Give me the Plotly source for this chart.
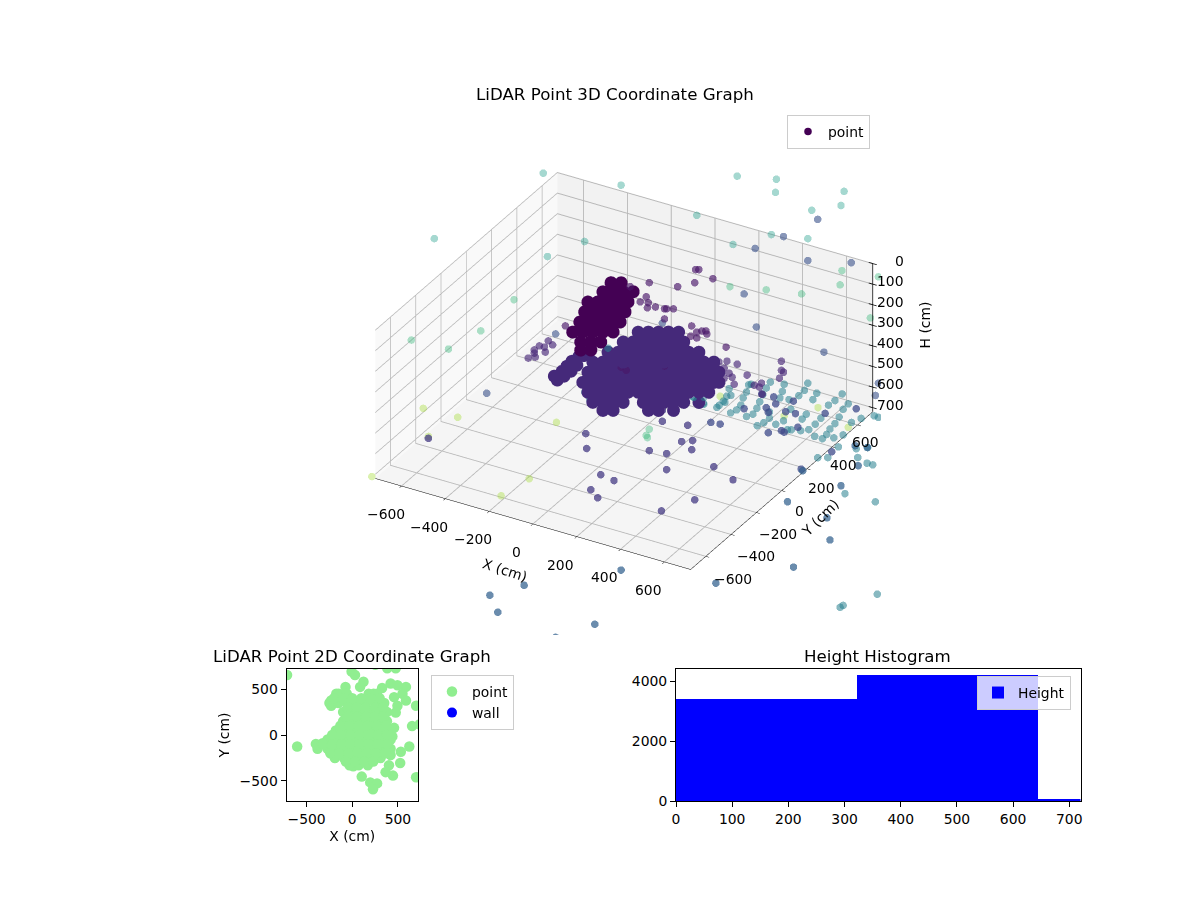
#!/usr/bin/env python3

import plotly.graph_objects as go

FONT = "DejaVu Sans"

# 3D points, one set of lists per colour group
x_top = [-270, -10, 378, 509, 506, 735, 725, 627, 243, 492, 614, 364, -132, -634, -256]
y_top = [-156, -6, 218, 294, 292, 424, 418, 362, 140, 284, 354, 210, -76, -366, -148]
h_top = [-564, -507, -550, -535, -473, -478, -411, -388, -364, -273, -254, -226, -240, -254, -169]

x_green = [728, 850, 722, 354, 475, 593, 823, -368, -479, -711, -587, 84, 74, 78]
y_green = [420, 490, 416, 204, 274, 342, 475, -212, -276, -410, -338, 49, 43, 45]
h_green = [-102, -73, -35, -26, -11, 8, 122, 36, 184, 227, 270, 650, 679, 689]

x_yellow = [-671, -556, -226, -654, -843, -317, -411, 321, 648, 535, 749]
y_yellow = [-387, -321, -130, -377, -486, -183, -237, 185, 374, 308, 432]
h_yellow = [551, 593, 617, 684, 874, 884, 965, 493, 547, 586, 640]

x_blue = [647, 533, 438, 614, 759, 401, 442, 668, 128, -229, -459, 850, 840]
y_blue = [373, 307, 253, 354, 438, 231, 255, 385, 74, -132, -265, 490, 484]
h_blue = [-345, -264, -207, -150, -140, 8, 165, 284, 146, 198, 479, 431, 489]

x_purple = [239, 250, 297, 236, 179, 84, 20, 74, 81, 54, 78, 105, 135, 142, 165, 135, 226, 243,
            260, 273, 277, 223, 243, 341, -196, 67, 7, 135, -10, 7]
y_purple = [138, 144, 171, 136, 103, 49, 12, 43, 47, 31, 45, 60, 78, 82, 95, 78, 130, 140,
            150, 158, 159, 128, 140, 196, -113, 39, 4, 78, -6, 4]
h_purple = [-107, -107, -64, -45, -26, -45, -26, 22, 50, 46, 74, 70, 79, 79, 79, 127, 160, 189,
            184, 184, 198, 208, 217, 260, 160, 279, 322, 350, 355, 370]

x_tail = [-253, -283, -300, -266, -263, -239, -297, -320, -300, 317, 344, 378, 334, 351, 361, 334,
          368, 411, 459, 435, 452, 462, 526, 526, 533, 519]
y_tail = [-146, -163, -173, -154, -152, -138, -171, -185, -173, 183, 198, 218, 193, 202, 208, 193,
          212, 237, 265, 251, 261, 266, 303, 303, 307, 300]
h_tail = [231, 255, 274, 260, 284, 250, 308, 312, 289, 331, 327, 341, 360, 384, 403, 408,
          436, 393, 431, 441, 450, 484, 327, 370, 379, 408]

x_teal = [230, 265, 318, 332, 343, 351, 356, 376, 390, 398, 409, 416, 409, 431, 444, 453, 464, 475,
          489, 535, 445, 467, 486, 486, 507, 521, 529, 551, 584, 603, 614, 644, 631, 595, 609, 533,
          557, 546, 559, 590, 617, 639, 658, 683, 705, 729, 749, 719, 705, 688, 677, 663, 637, 732,
          760, 732, 701, 716, 647, 681, 776, 781, 812, 831, 792, 836, 814,
          266, 310, 337, 357, 266, 233, 425, -132, -115, -54, 738, 840, 846, 722, 732, 850]
y_teal = [133, 153, 183, 191, 198, 202, 205, 217, 225, 229, 236, 240, 236, 248, 256, 261, 267, 274,
          282, 308, 256, 269, 280, 280, 292, 300, 305, 318, 337, 347, 354, 371, 364, 343, 351, 307,
          321, 315, 322, 340, 356, 368, 379, 394, 406, 420, 432, 414, 406, 397, 390, 382, 367, 422,
          438, 422, 404, 413, 373, 392, 447, 450, 468, 479, 457, 482, 469,
          154, 179, 195, 206, 154, 134, 245, -76, -66, -31, 426, 484, 488, 416, 422, 490]
h_teal = [496, 526, 536, 516, 493, 457, 572, 558, 535, 501, 473, 439, 589, 578, 550, 519, 485, 454,
          426, 436, 632, 618, 597, 567, 626, 501, 470, 509, 490, 465, 431, 478, 509, 601, 578, 609,
          555, 652, 652, 656, 651, 625, 597, 535, 513, 482, 529, 591, 622, 648, 674, 694, 683, 555,
          617, 676, 690, 733, 784, 783, 741, 783, 810, 818, 598, 586, 736,
          531, 546, 522, 489, 498, 498, 436, 474, 512, 265, 955, 993, 1431, 1493, 1484, 593]

x_dark = [460, 500, 507, 566, 401, 475, 482, 540, 573, 526, 535, 581, 482, 290, 321, 672, 776, 592, 694]
y_dark = [265, 288, 292, 326, 231, 274, 278, 311, 330, 303, 308, 335, 278, 167, 185, 387, 447, 341, 400]
h_dark = [482, 496, 529, 516, 552, 547, 570, 566, 575, 656, 663, 640, 666, 617, 625, 574, 552, 838, 756]

x_steel = [772, 813, 782, 725, 597, 546, 678, 688, 566, 307, -10, -334, -448, -422, -98, -229]
y_steel = [445, 469, 451, 418, 344, 315, 391, 397, 327, 177, -6, -193, -259, -243, -56, -132]
h_steel = [727, 736, 822, 917, 846, 993, 1069, 1174, 1303, 1379, 1317, 1389, 1436, 1517, 1574, 1636]

x_floor = [-128, -125, 128, 128, 212, 192, 229, 84, 142, 226, 142, 300, 364, -78, -34,
           -111, -88, 236, 125, -654]
y_floor = [-74, -72, 74, 74, 123, 111, 132, 49, 82, 130, 82, 173, 210, -45, -19,
           -64, -51, 136, 72, -377]
h_floor = [670, 741, 612, 560, 631, 708, 703, 751, 765, 746, 841, 827, 889, 865, 893,
           936, 974, 984, 1036, 693]

x_hand = [-44, -10, -71, -37, -3, 30, -121, -88, -54, -20, 13, -132, -98, -64, -30, 3,
          -148, -115, -81, -47, -13, -172, -138, -105, -71, -37, -145, -111, -78, -145, -111]
y_hand = [-25, -6, -41, -21, -2, 18, -70, -51, -31, -12, 8, -76, -56, -37, -18, 2,
          -86, -66, -47, -27, -8, -99, -80, -60, -41, -21, -84, -64, -45, -84, -64]
h_hand = [-45, -45, -2, -2, -2, -2, 46, 46, 46, 46, 46, 93, 93, 93, 93, 93,
          141, 141, 141, 141, 141, 189, 189, 189, 189, 189, 236, 236, 236, 274, 274]

x_blob = [47, 81, 115, 148, 182,
          -3, 30, 64, 98, 132, 165, 199,
          -54, -20, 13, 47, 81, 115, 148, 182, 216, 250,
          -105, -71, -37, -3, 30, 64, 98, 132, 165, 199, 233, 266, 300,
          -121, -88, -54, -20, 13, 47, 81, 115, 148, 182, 216, 250, 283, 317,
          -138, -105, -71, -37, -3, 30, 64, 98, 132, 165, 199, 233, 266, 300, 317,
          -121, -88, -54, -20, 13, 47, 81, 115, 148, 182, 216, 250, 283,
          -105, -71, -37, -3, 64, 98, 132, 165, 199, 250,
          -71, -37, 81, 115, 165]
y_blob = [27, 47, 66, 86, 105,
          -2, 18, 37, 56, 76, 95, 115,
          -31, -12, 8, 27, 47, 66, 86, 105, 124, 144,
          -60, -41, -21, -2, 18, 37, 56, 76, 95, 115, 134, 154, 173,
          -70, -51, -31, -12, 8, 27, 47, 66, 86, 105, 124, 144, 163, 183,
          -80, -60, -41, -21, -2, 18, 37, 56, 76, 95, 115, 134, 154, 173, 183,
          -70, -51, -31, -12, 8, 27, 47, 66, 86, 105, 124, 144, 163,
          -60, -41, -21, -2, 37, 56, 76, 95, 115, 144,
          -41, -21, 47, 66, 95]
h_blob = [189] * 5 + [236] * 7 + [284] * 10 + [331] * 13 + [379] * 14 + [427] * 15 + [474] * 13 + [522] * 10 + [560] * 5

x_arm = [-239, -212, -196, -179, -155, -138, -121, -229, -206, -182, -162]
y_arm = [-138, -123, -113, -103, -89, -80, -70, -132, -119, -105, -93]
h_arm = [384, 360, 336, 312, 289, 284, 265, 403, 384, 360, 331]

x_2d = [-714, -603, -398, -324, -7, 30, 123, 86, -74, 253, 383, 476, 420, 327, 234, 588, 495, 550,
        458, 588, 495, 476, 699, 655, 737, 458, 439, -175, -231, -231, 625, 532, 525, 402, 365, 446,
        420, 699, 104, 197, 272, 227, -193, 11,
        -150, -60, 180, 270,
        -250, -150, -50, 50, 150, 250, 350,
        -100, 0, 100, 200, 300, 380,
        -100, 0, 100, 200, 300, 380,
        -180, -80, 20, 120, 220, 320, 420,
        -270, -170, -70, 30, 130, 230, 330, 420,
        -380, -270, -170, -70, 30, 130, 230, 330, 420,
        -190, -90, 10, 110, 210, 310,
        -30, 70, 170,
        -200, -100, 0, 100, 200, 300,
        -50, 50, 150, 250, 340,
        -50, 50, 150, 250, 340,
        -130, -30, 70, 170, 270, 370,
        -220, -120, -20, 80, 180, 280, 380,
        -320, -220, -120, -20, 80, 180, 280, 380,
        -240, -140, -40, 60, 160, 260, 360,
        -70, 30, 130, 230]
y_2d = [655, -126, -97, -89, 692, 655, 580, 525, 525, 766, 729, 729, 562, 513, 450, 525, 543, 450,
        413, 376, 320, 245, 320, 97, 115, 78, -15, 450, 376, 320, -126, -182, -305, -331, -405, -443,
        -219, -461, -454, -517, -528, -591, -238, -342,
        450, 450, 450, 450,
        350, 350, 350, 350, 350, 350, 350,
        250, 250, 250, 250, 250, 250,
        150, 150, 150, 150, 150, 150,
        50, 50, 50, 50, 50, 50, 50,
        -50, -50, -50, -50, -50, -50, -50, -50,
        -150, -150, -150, -150, -150, -150, -150, -150, -150,
        -250, -250, -250, -250, -250, -250,
        -330, -330, -330,
        400, 400, 400, 400, 400, 400,
        300, 300, 300, 300, 300,
        200, 200, 200, 200, 200,
        100, 100, 100, 100, 100, 100,
        0, 0, 0, 0, 0, 0, 0,
        -100, -100, -100, -100, -100, -100, -100, -100,
        -200, -200, -200, -200, -200, -200, -200,
        -290, -290, -290, -290]
x_wall = [None]
y_wall = [None]

# histogram bins
bin_left = [0, 323, 645]
bin_width = [323, 322, 322]
bin_count = [3409, 4212, 56]

# axis ticks of the 3D panel
xy_ticks = [-600, -400, -200, 0, 200, 400, 600]
h_ticks = [0, 100, 200, 300, 400, 500, 600, 700]
LIM = 720
ZOOM = 1.364  # orthographic scale only follows the aspect ratio
SPREAD = 1.025  # reference has perspective, points sit a bit wider than the box

fig = go.Figure()


def points(x, y, h, color, opacity, size=4.4, scene="scene2", **kw):
    fig.add_trace(
        go.Scatter3d(
            x=x, y=y, z=h,
            mode="markers",
            scene=scene,
            marker=dict(color=color, size=size, opacity=opacity, line=dict(width=0)),
            showlegend=kw.pop("showlegend", False),
            hoverinfo="skip",
            **kw,
        )
    )


points(x_arm, y_arm, h_arm, "#45297a", 1, size=7.5, scene="scene")
points(x_top, y_top, h_top, "#1f9e89", 0.4)
points(x_green, y_green, h_green, "#35b779", 0.4)
points(x_yellow, y_yellow, h_yellow, "#a5db36", 0.4)
points(x_teal, y_teal, h_teal, "#277f8e", 0.55)
points(x_blue, y_blue, h_blue, "#3b528b", 0.6)
points(x_dark, y_dark, h_dark, "#3e4989", 0.75)
points(x_steel, y_steel, h_steel, "#31608d", 0.72)
points(x_floor, y_floor, h_floor, "#443983", 0.75)
points(x_tail, y_tail, h_tail, "#482878", 0.65)
points(x_blob, y_blob, h_blob, "#45297a", 1, size=7.5)
points(x_hand, y_hand, h_hand, "#440154", 1, size=7.5, name="point", showlegend=True, legend="legend")
points(x_purple, y_purple, h_purple, "#481668", 0.65)

# the H axis sits on the right hand edge, plotly would put it on the left
spine_x, spine_y, spine_h = [LIM, LIM], [LIM, LIM], [LIM, 0]
for h in h_ticks:
    spine_x += [None, LIM - 18, LIM + 18]
    spine_y += [None, LIM, LIM]
    spine_h += [None, h, h]
fig.add_trace(
    go.Scatter3d(
        x=spine_x, y=spine_y, z=spine_h, mode="lines", scene="scene3",
        line=dict(color="black", width=1.5), showlegend=False, hoverinfo="skip",
    )
)

fig.add_trace(
    go.Scatter(
        x=x_2d, y=y_2d, mode="markers", name="point", legend="legend2",
        marker=dict(color="lightgreen", size=10.5), xaxis="x", yaxis="y",
    )
)
fig.add_trace(
    go.Scatter(
        x=x_wall, y=y_wall, mode="markers", name="wall", legend="legend2",
        marker=dict(color="blue", size=10), xaxis="x", yaxis="y",
    )
)
fig.add_trace(
    go.Bar(
        x=bin_left, y=bin_count, width=bin_width, offset=0, name="Height", legend="legend3",
        marker=dict(color="blue", line=dict(width=0)), xaxis="x2", yaxis="y2",
    )
)

axis2d = dict(
    showgrid=False, zeroline=False, showline=True, mirror=True, linecolor="black", linewidth=1,
    ticks="outside", ticklen=5, tickcolor="black", tickfont=dict(size=13.9),
)
axis3d = dict(
    showbackground=True, gridcolor="#b8b8b8", gridwidth=2, showline=True, linecolor="black",
    linewidth=1, ticks="outside", tickcolor="black", ticklen=4, zeroline=False, showspikes=False,
    showticklabels=False, title_text="",
)
hidden = dict(visible=False, showspikes=False)
eye = dict(x=2.165, y=-3.75, z=2.5)
camera = dict(eye=eye, up=dict(x=0, y=0, z=1), center=dict(x=0, y=0, z=0), projection=dict(type="orthographic"))
domain_box = dict(x=[367 / 1200, 881 / 1200], y=[1 - 638 / 900, 1 - 104 / 900])
domain_points = dict(x=[367 / 1200, 881 / 1200], y=[1 - 635 / 900, 1 - 101 / 900])


def label(text, x, y, h, xshift, yshift, angle=0, xanchor="center"):
    return dict(
        text=text, x=x, y=y, z=h, xshift=xshift, yshift=yshift, textangle=angle, showarrow=False,
        xanchor=xanchor, yanchor="middle", font=dict(size=13.9, color="black", family=FONT),
    )


def tick_text(v):
    return str(v).replace("-", "\u2212")


scene_labels = (
    [label(tick_text(v), v, -LIM, LIM, -16, -28) for v in xy_ticks]
    + [label(tick_text(v), LIM, v, LIM, 18 - 0.016 * v, -20 + 0.005 * v) for v in xy_ticks]
    + [label(tick_text(v), LIM, LIM, v, 33, 3, xanchor="right") for v in h_ticks]
    + [
        label("X (cm)", 0, -LIM, LIM, -28, -46, angle=18),
        label("Y (cm)", LIM, 0, LIM, 38, -27, angle=-45),
        label("H (cm)", LIM, LIM, 360, 52, 13, angle=-90),
    ]
)


def legend_at(px, py):
    return dict(
        x=px / 1200, y=1 - py / 900, xanchor="left", yanchor="top",
        bordercolor="#cccccc", borderwidth=1, bgcolor="rgba(255,255,255,0.8)",
        font=dict(size=13.9),
    )


fig.update_layout(
    width=1200, height=900,
    margin=dict(l=0, r=0, t=0, b=0, autoexpand=False),
    paper_bgcolor="white", plot_bgcolor="white",
    font=dict(family=FONT, color="black"),
    bargap=0,
    scene=dict(
        domain=domain_box,
        camera=camera,
        aspectmode="manual",
        aspectratio=dict(x=ZOOM, y=ZOOM, z=0.47 * ZOOM),
        xaxis=dict(axis3d, range=[-LIM, LIM], tick0=0, dtick=200, backgroundcolor="#f9f9f9"),
        yaxis=dict(axis3d, range=[-LIM, LIM], tick0=0, dtick=200, backgroundcolor="#f2f2f2"),
        zaxis=dict(axis3d, range=[LIM, 0], tick0=0, dtick=100, backgroundcolor="#f5f5f5",
                   showline=False, ticks=""),
        annotations=scene_labels,
    ),
    # same view, four times the range, so points beyond the box stay drawn
    scene2=dict(
        domain=domain_points,
        camera=camera,
        aspectmode="manual",
        aspectratio=dict(x=4 * ZOOM * SPREAD, y=4 * ZOOM * SPREAD, z=1.88 * ZOOM * SPREAD),
        xaxis=dict(hidden, range=[-2880, 2880]),
        yaxis=dict(hidden, range=[-2880, 2880]),
        zaxis=dict(hidden, range=[1800, -1080]),
        bgcolor="rgba(0,0,0,0)",
    ),
    scene3=dict(
        domain=domain_box,
        camera=camera,
        aspectmode="manual",
        aspectratio=dict(x=4 * ZOOM, y=4 * ZOOM, z=1.88 * ZOOM),
        xaxis=dict(hidden, range=[-2880, 2880]),
        yaxis=dict(hidden, range=[-2880, 2880]),
        zaxis=dict(hidden, range=[1800, -1080]),
        bgcolor="rgba(0,0,0,0)",
    ),
    xaxis=dict(axis2d, domain=[286.5 / 1200, 418 / 1200], range=[-720, 720], tickvals=[-500, 0, 500],
               title=dict(text="X (cm)", font=dict(size=13.9), standoff=5), anchor="y"),
    yaxis=dict(axis2d, domain=[1 - 801 / 900, 1 - 669 / 900], range=[-720, 720], tickvals=[-500, 0, 500],
               title=dict(text="Y (cm)", font=dict(size=13.9), standoff=6), anchor="x"),
    xaxis2=dict(axis2d, domain=[676 / 1200, 1080.5 / 1200], range=[0, 720], dtick=100, anchor="y2"),
    yaxis2=dict(axis2d, domain=[1 - 801 / 900, 1 - 669 / 900], range=[0, 4401], tickvals=[0, 2000, 4000], anchor="x2"),
    legend=legend_at(787, 115),
    legend2=legend_at(431, 675),
    legend3=legend_at(977, 676),
    annotations=[
        dict(text=t, x=px / 1200, y=1 - py / 900, xref="paper", yref="paper", showarrow=False,
             xanchor="center", yanchor="middle", font=dict(size=16.67))
        for t, px, py in [
            ("LiDAR Point 3D Coordinate Graph", 615, 95),
            ("LiDAR Point 2D Coordinate Graph", 352, 656),
            ("Height Histogram", 877, 656),
        ]
    ],
)

fig.write_html(
    "out.html",
    config={"displayModeBar": False},
    post_script="document.body.style.margin = '0';",
)
